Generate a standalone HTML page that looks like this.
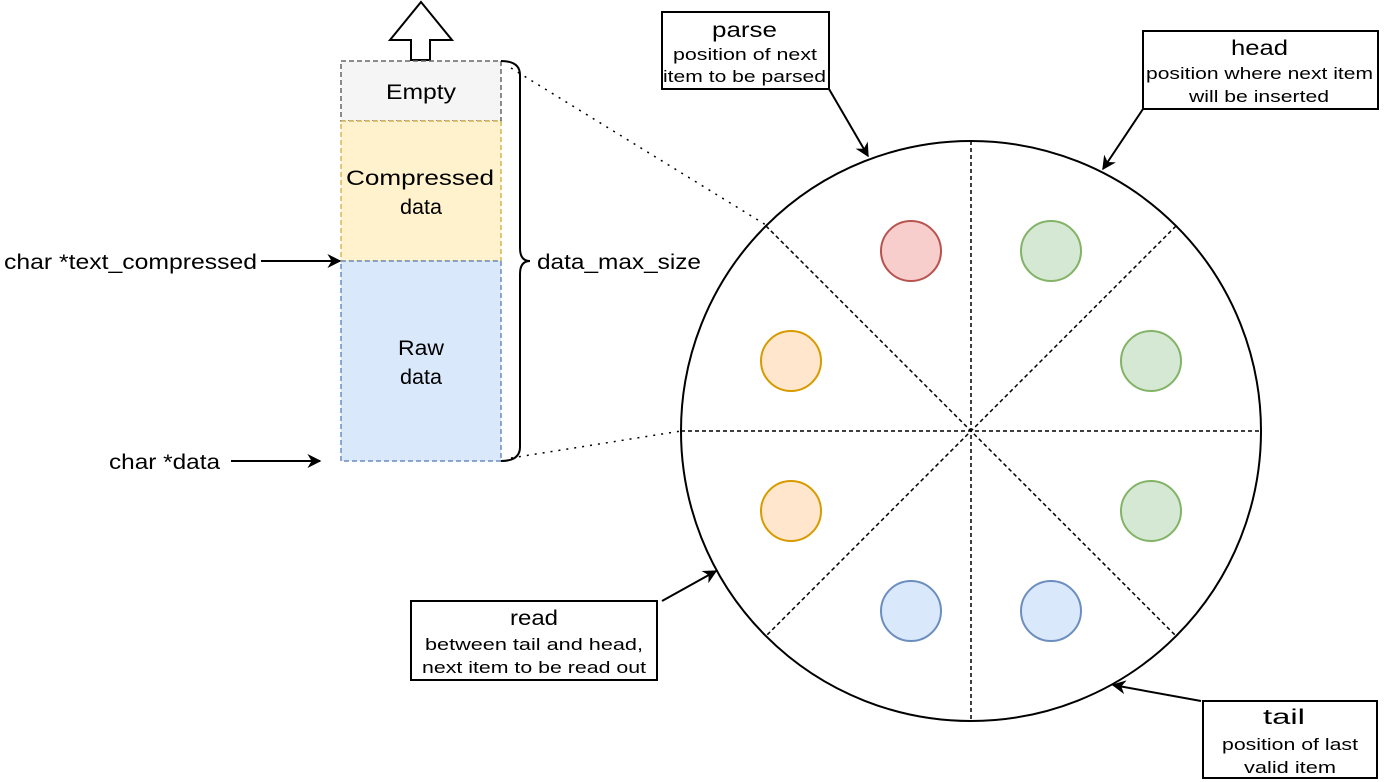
<!DOCTYPE html>
<html><head><meta charset="utf-8"><style>
html,body{margin:0;padding:0;background:#fff;}
svg{display:block;font-family:"Liberation Sans",Arial,sans-serif;}
</style></head><body>
<svg width="1384" height="782" viewBox="0 0 1384 782" xmlns="http://www.w3.org/2000/svg">
<defs>
<marker id="a" viewBox="0 0 10 10" refX="9" refY="5" markerWidth="14" markerHeight="14" markerUnits="userSpaceOnUse" orient="auto"><path d="M0,0 L10,5 L0,10 L3,5 z" fill="#000"/></marker>
</defs>
<path d="M421,2 L452,40 L430,40 L430,60 L411,60 L411,40 L390,40 Z" fill="#fff" stroke="#000" stroke-width="2"/>
<rect x="341" y="61" width="160" height="60" fill="#f5f5f5" stroke="#666" stroke-width="1.5" stroke-dasharray="5 3"/>
<rect x="341" y="121" width="160" height="140" fill="#fff2cc" stroke="#d6b656" stroke-width="1.5" stroke-dasharray="5 3"/>
<rect x="341" y="261" width="160" height="200" fill="#dae8fc" stroke="#6c8ebf" stroke-width="1.5" stroke-dasharray="5 3"/>
<text x="386" y="99" font-size="21" textLength="70" lengthAdjust="spacingAndGlyphs">Empty</text>
<text x="346" y="185" font-size="21" textLength="148" lengthAdjust="spacingAndGlyphs">Compressed</text>
<text x="400" y="214" font-size="21" textLength="42" lengthAdjust="spacingAndGlyphs">data</text>
<text x="398" y="355" font-size="21" textLength="46" lengthAdjust="spacingAndGlyphs">Raw</text>
<text x="400" y="384" font-size="21" textLength="42" lengthAdjust="spacingAndGlyphs">data</text>
<path d="M501,61 Q520,61 520,75 L520,248 Q520,261 530,261 Q520,261 520,274 L520,447 Q520,461 501,461" fill="none" stroke="#000" stroke-width="2"/>
<text x="537" y="269" font-size="21" textLength="164" lengthAdjust="spacingAndGlyphs">data_max_size</text>
<line x1="511" y1="68" x2="766" y2="225" stroke="#000" stroke-dasharray="2 6" stroke-width="1.5"/>
<line x1="511" y1="458" x2="681" y2="431" stroke="#000" stroke-dasharray="2 6" stroke-width="1.5"/>
<text x="4" y="269" font-size="21" textLength="253" lengthAdjust="spacingAndGlyphs">char *text_compressed</text>
<line x1="261" y1="261" x2="340" y2="261" stroke="#000" stroke-width="2" marker-end="url(#a)"/>
<text x="109" y="469" font-size="21" textLength="111" lengthAdjust="spacingAndGlyphs">char *data</text>
<line x1="231" y1="461" x2="320" y2="461" stroke="#000" stroke-width="2" marker-end="url(#a)"/>
<circle cx="971" cy="431" r="290" fill="#fff" stroke="#000" stroke-width="2"/>
<g stroke="#000" stroke-width="1.5" stroke-dasharray="4 3">
<line x1="971" y1="141" x2="971" y2="721"/>
<line x1="681" y1="431" x2="1261" y2="431"/>
<line x1="766" y1="226" x2="1176" y2="636"/>
<line x1="1176" y1="226" x2="766" y2="636"/>
</g>
<circle cx="911" cy="251" r="30" fill="#f8cecc" stroke="#b85450" stroke-width="2"/>
<circle cx="1051" cy="251" r="30" fill="#d5e8d4" stroke="#82b366" stroke-width="2"/>
<circle cx="1151" cy="361" r="30" fill="#d5e8d4" stroke="#82b366" stroke-width="2"/>
<circle cx="1151" cy="511" r="30" fill="#d5e8d4" stroke="#82b366" stroke-width="2"/>
<circle cx="791" cy="361" r="30" fill="#ffe6cc" stroke="#d79b00" stroke-width="2"/>
<circle cx="791" cy="511" r="30" fill="#ffe6cc" stroke="#d79b00" stroke-width="2"/>
<circle cx="911" cy="611" r="30" fill="#dae8fc" stroke="#6c8ebf" stroke-width="2"/>
<circle cx="1051" cy="611" r="30" fill="#dae8fc" stroke="#6c8ebf" stroke-width="2"/>
<rect x="662" y="12" width="167" height="77" fill="#fff" stroke="#000" stroke-width="2"/>
<text x="712" y="37" font-size="21" textLength="65" lengthAdjust="spacingAndGlyphs">parse</text>
<text x="673" y="60" font-size="17" textLength="144" lengthAdjust="spacingAndGlyphs">position of next</text>
<text x="663" y="82" font-size="17" textLength="163" lengthAdjust="spacingAndGlyphs">item to be parsed</text>
<line x1="829" y1="89" x2="868" y2="156" stroke="#000" stroke-width="2" marker-end="url(#a)"/>
<rect x="1143" y="31" width="235" height="78" fill="#fff" stroke="#000" stroke-width="2"/>
<text x="1231" y="55" font-size="21" textLength="57" lengthAdjust="spacingAndGlyphs">head</text>
<text x="1146" y="79" font-size="17" textLength="227" lengthAdjust="spacingAndGlyphs">position where next item</text>
<text x="1189" y="102" font-size="17" textLength="140" lengthAdjust="spacingAndGlyphs">will be inserted</text>
<line x1="1143" y1="109" x2="1103" y2="169" stroke="#000" stroke-width="2" marker-end="url(#a)"/>
<rect x="411" y="601" width="246" height="79" fill="#fff" stroke="#000" stroke-width="2"/>
<text x="510" y="625" font-size="21" textLength="48" lengthAdjust="spacingAndGlyphs">read</text>
<text x="425" y="650" font-size="17" textLength="218" lengthAdjust="spacingAndGlyphs">between tail and head,</text>
<text x="422" y="673" font-size="17" textLength="224" lengthAdjust="spacingAndGlyphs">next item to be read out</text>
<line x1="662" y1="601" x2="716" y2="571" stroke="#000" stroke-width="2" marker-end="url(#a)"/>
<rect x="1203" y="701" width="174" height="77" fill="#fff" stroke="#000" stroke-width="2"/>
<text x="1263" y="724" font-size="21" textLength="42" lengthAdjust="spacingAndGlyphs">tail</text>
<text x="1222" y="750" font-size="17" textLength="136" lengthAdjust="spacingAndGlyphs">position of last</text>
<text x="1244" y="773" font-size="17" textLength="92" lengthAdjust="spacingAndGlyphs">valid item</text>
<line x1="1201" y1="701" x2="1113" y2="685" stroke="#000" stroke-width="2" marker-end="url(#a)"/>
</svg>
</body></html>
